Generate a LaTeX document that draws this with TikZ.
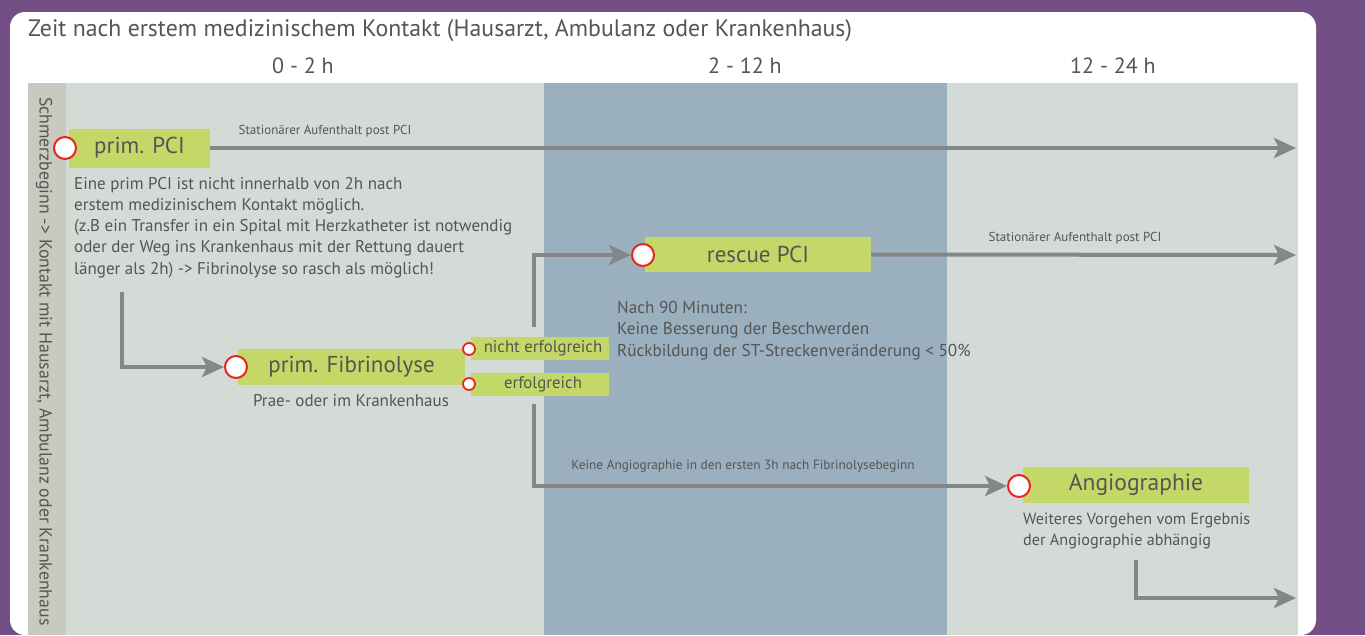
\documentclass[tikz,border=0pt]{standalone}
\usepackage{fontspec}
\setmainfont{PT Sans}
\usetikzlibrary{arrows.meta}
\definecolor{purp}{HTML}{744F86}
\definecolor{panel}{HTML}{D4DAD6}
\definecolor{strip}{HTML}{C9CABF}
\definecolor{band}{HTML}{9AB0BE}
\definecolor{lgreen}{HTML}{C4D867}
\definecolor{agray}{HTML}{868686}
\definecolor{tgray}{HTML}{555555}
\definecolor{cred}{HTML}{E8261E}
\tikzset{
  box/.style={fill=lgreen, inner sep=0pt, text=tgray, font=\fontsize{23}{27}\selectfont},
  sbox/.style={fill=lgreen, inner sep=0pt, text=tgray, font=\fontsize{16.8}{20}\selectfont, minimum width=138pt, minimum height=23pt},
  bigdot/.style={circle, draw=cred, fill=white, line width=2pt, minimum size=22pt, inner sep=0pt},
  smalldot/.style={circle, draw=cred, fill=white, line width=1.8pt, minimum size=12pt, inner sep=0pt},
  arr/.style={draw=agray, line width=4pt, -{Stealth[length=22pt,width=20pt,inset=5pt]}},
  small/.style={text=tgray, font=\fontsize{13}{15}\selectfont, inner sep=0pt},
  desc/.style={text=tgray, font=\fontsize{17}{21.2}\selectfont, align=left, inner sep=0pt},
  head/.style={text=tgray, font=\fontsize{22}{26}\selectfont, inner sep=0pt},
}
\begin{document}
\begin{tikzpicture}[x=1pt,y=-1pt]
\useasboundingbox (0,0) rectangle (1365,635);
\fill[purp] (0,0) rectangle (1365,635);
\fill[white, rounded corners=15pt] (10,12) rectangle (1316,635);
\fill[panel] (28,83) rectangle (1298,635);
\fill[strip] (28,83) rectangle (66,635);
\fill[band] (544,83) rectangle (947,635);

\node[head, anchor=west, font=\fontsize{23.8}{27}\selectfont] (title) at (28,31) {Zeit nach erstem medizinischem Kontakt (Hausarzt, Ambulanz oder Krankenhaus)};
\node[head] (h1) at (303,66) {0 - 2 h};
\node[head] (h2) at (745,66) {2 - 12 h};
\node[head] (h3) at (1113,66) {12 - 24 h};

\node[text=tgray, font=\fontsize{17.8}{20}\selectfont, rotate=-90, anchor=west, inner sep=0pt] (side) at (44,97) {Schmerzbeginn -> Kontakt mit Hausarzt, Ambulanz oder Krankenhaus};

% prim PCI
\node[box, minimum width=141pt, minimum height=39pt] (ppci) at (139.5,148) {prim. PCI};
\node[bigdot] (ppcidot) at (65,148) {};
\coordinate (ppciend) at (1296,148);
\draw[arr] (ppci.east) -- (ppciend);
\node[small] (lab1) at (325,131) {Stationärer Aufenthalt post PCI};
\node[desc, anchor=north west] (ppcitext) at (74,177) {Eine prim PCI ist nicht innerhalb von 2h nach\\erstem medizinischem Kontakt möglich.\\(z.B ein Transfer in ein Spital mit Herzkatheter ist notwendig\\oder der Weg ins Krankenhaus mit der Rettung dauert\\länger als 2h) -> Fibrinolyse so rasch als möglich!};

% Fibrinolyse
\node[box, minimum width=227pt, minimum height=36pt] (pfib) at (351.5,367) {prim. Fibrinolyse};
\node[bigdot] (pfibdot) at (236,367) {};
\coordinate (fstart) at (122,292);
\draw[arr] (fstart) |- (pfibdot.west);
\node[desc] (pfibtext) at (351,401) {Prae- oder im Krankenhaus};

\node[sbox] (ne) at (540,348.5) {\hspace*{6pt}nicht erfolgreich};
\node[smalldot] (nedot) at (469,349) {};
\node[sbox] (er) at (540,384.5) {\hspace*{6pt}erfolgreich};
\node[smalldot] (erdot) at (469,384) {};

% rescue PCI
\node[box, minimum width=226pt, minimum height=35pt] (rpci) at (758,254.5) {rescue PCI};
\node[bigdot] (rpcidot) at (643,255) {};
\coordinate (neup) at (534,327);
\draw[arr] (neup) |- (rpcidot.west);
\coordinate (rpciend) at (1296,255);
\draw[arr] (rpci.east) -- (rpciend);
\node[small] (lab2) at (1075,238) {Stationärer Aufenthalt post PCI};
\node[desc, anchor=north west, font=\fontsize{17.2}{21.5}\selectfont] (rtext) at (617,301) {Nach 90 Minuten:\\Keine Besserung der Beschwerden\\Rückbildung der ST-Streckenveränderung < 50\%};

% Angiographie
\node[box, minimum width=226pt, minimum height=36pt, font=\fontsize{23.5}{27}\selectfont] (angio) at (1136,485) {Angiographie};
\node[bigdot] (angiodot) at (1019,486) {};
\coordinate (erdown) at (534,404);
\draw[arr] (erdown) |- (angiodot.west);
\node[small, font=\fontsize{13.3}{15}\selectfont] (lab3) at (743,466) {Keine Angiographie in den ersten 3h nach Fibrinolysebeginn};
\node[desc, anchor=north west, font=\fontsize{16.2}{21}\selectfont] (atext) at (1023,513) {Weiteres Vorgehen vom Ergebnis\\der Angiographie abhängig};
\coordinate (astart) at (1136,560);
\coordinate (aend) at (1296,598);
\draw[arr] (astart) |- (aend);
\end{tikzpicture}
\end{document}
